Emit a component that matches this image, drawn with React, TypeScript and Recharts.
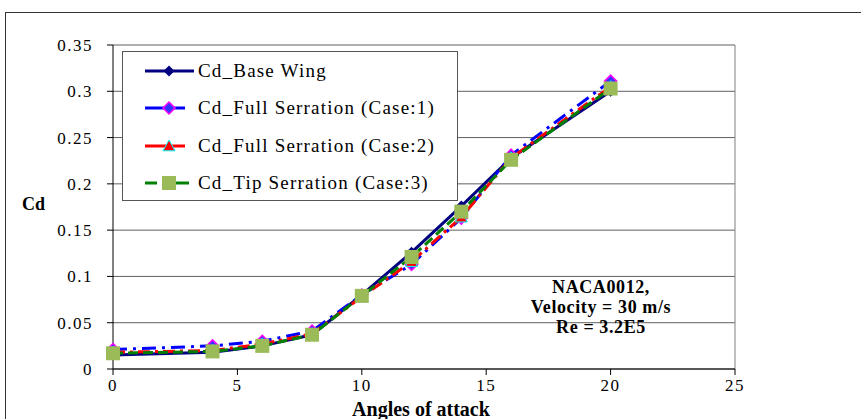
import React from 'react';
import { LineChart, Line, XAxis, YAxis, CartesianGrid, ReferenceLine } from 'recharts';

const angles = [0, 4, 6, 8, 10, 12, 14, 16, 20];
const baseWing = [0.015, 0.018, 0.025, 0.037, 0.08, 0.126, 0.176, 0.228, 0.300];
const fullCase1 = [0.021, 0.025, 0.030, 0.041, 0.080, 0.113, 0.163, 0.231, 0.311];
const fullCase2 = [0.018, 0.020, 0.027, 0.038, 0.078, 0.116, 0.164, 0.228, 0.305];
const tipCase3 = [0.017, 0.019, 0.025, 0.037, 0.079, 0.121, 0.170, 0.226, 0.303];

const xTicks = [0, 5, 10, 15, 20, 25];
const yTicks = [0, 0.05, 0.1, 0.15, 0.2, 0.25, 0.3, 0.35];

const data = angles.map((a, i) => ({
  a,
  base: baseWing[i],
  c1: fullCase1[i],
  c2: fullCase2[i],
  c3: tipCase3[i],
}));

const FONT = '"Liberation Serif", "Times New Roman", serif';

type Kind = 'diamond' | 'diamond2' | 'triangle' | 'square';

const Marker = ({ kind, cx, cy }: { kind: Kind; cx: number; cy: number }) => {
  if (kind === 'diamond') {
    const r = 5.5;
    return <polygon points={`${cx},${cy - r} ${cx + r},${cy} ${cx},${cy + r} ${cx - r},${cy}`} fill="#000080" />;
  }
  if (kind === 'diamond2') {
    const r = 6;
    return (
      <polygon
        points={`${cx},${cy - r} ${cx + r},${cy} ${cx},${cy + r} ${cx - r},${cy}`}
        fill="#3333ff"
        stroke="#ff00ff"
        strokeWidth={1.5}
      />
    );
  }
  if (kind === 'triangle') {
    const r = 6;
    return (
      <polygon
        points={`${cx},${cy - r} ${cx + r},${cy + r * 0.8} ${cx - r},${cy + r * 0.8}`}
        fill="#ff0000"
        stroke="#00ffff"
        strokeWidth={1}
      />
    );
  }
  return <rect x={cx - 7} y={cy - 7} width={14} height={14} fill="#9bbb59" />;
};

const makeDot = (kind: Kind) => (p: any) => (
  <Marker key={`${kind}-${p.index}`} kind={kind} cx={p.cx} cy={p.cy} />
);

const SERIES = [
  { key: 'base', name: 'Cd_Base Wing', color: '#000080', dash: undefined, kind: 'diamond' as Kind, legendDash: undefined },
  { key: 'c1', name: 'Cd_Full Serration (Case:1)', color: '#0000ff', dash: '14 6 3 6', kind: 'diamond2' as Kind, legendDash: '40 10 3 10' },
  { key: 'c2', name: 'Cd_Full Serration (Case:2)', color: '#ff0000', dash: '12 5 3 5', kind: 'triangle' as Kind, legendDash: '40 10 3 10' },
  { key: 'c3', name: 'Cd_Tip Serration (Case:3)', color: '#008000', dash: '10 5', kind: 'square' as Kind, legendDash: '12 12 20 12' },
];

const LegendBox = () => (
  <div
    style={{
      position: 'absolute',
      left: 122,
      top: 51,
      width: 336,
      height: 150,
      border: '1px solid #555',
      background: '#fff',
      boxSizing: 'border-box',
    }}
  >
    {SERIES.map((s) => (
      <div key={s.key} style={{ display: 'flex', alignItems: 'center', height: 37.5 }}>
        <svg width={54} height={20} style={{ marginLeft: 21 }}>
          <line x1={1} y1={10} x2={50} y2={10} stroke={s.color} strokeWidth={3} strokeDasharray={s.legendDash} />
          <Marker kind={s.kind} cx={25} cy={10} />
        </svg>
        <span style={{ fontFamily: FONT, fontSize: 19, letterSpacing: 1.2, color: '#000' }}>{s.name}</span>
      </div>
    ))}
  </div>
);

export default function App() {
  return (
    <div style={{ position: 'absolute', left: 0, top: 0, width: 861, height: 419, background: '#fff', overflow: 'hidden' }}>
      <div
        style={{
          position: 'absolute',
          left: 5,
          top: 12,
          width: 900,
          height: 500,
          border: '1px solid #333',
          boxSizing: 'border-box',
        }}
      />
      <LineChart
        width={861}
        height={419}
        data={data}
        margin={{ top: 45, right: 126, bottom: 0, left: 0 }}
        style={{ position: 'absolute', left: 0, top: 0 }}
      >
        <CartesianGrid vertical={false} stroke="#606060" strokeWidth={1} />
        <XAxis
          dataKey="a"
          type="number"
          domain={[0, 25]}
          ticks={xTicks}
          height={50}
          stroke="#000"
          tickSize={6}
          tickMargin={4}
          tick={{ fill: '#000', fontFamily: FONT, fontSize: 17, letterSpacing: 1.5 }}
        />
        <YAxis
          domain={[0, 0.35]}
          ticks={yTicks}
          width={113}
          stroke="#000"
          tickSize={6}
          tickMargin={14}
          tickFormatter={(v) => String(Math.round(v * 100) / 100)}
          tick={{ fill: '#000', fontFamily: FONT, fontSize: 17, letterSpacing: 1.5 }}
        />
        <ReferenceLine x={25} stroke="#808080" />
        {SERIES.map((s) => (
          <Line
            key={s.key}
            dataKey={s.key}
            name={s.name}
            type="linear"
            stroke={s.color}
            strokeWidth={3}
            strokeDasharray={s.dash}
            dot={makeDot(s.kind)}
            activeDot={false}
            isAnimationActive={false}
          />
        ))}
      </LineChart>
      <LegendBox />
      <div
        style={{
          position: 'absolute',
          left: 18,
          top: 192,
          padding: '2px 4px',
          background: '#fff',
          fontFamily: FONT,
          fontWeight: 'bold',
          fontSize: 18,
          color: '#000',
        }}
      >
        Cd
      </div>
      <div
        style={{
          position: 'absolute',
          left: 501,
          top: 277,
          width: 200,
          textAlign: 'center',
          fontFamily: FONT,
          fontWeight: 'bold',
          fontSize: 18,
          lineHeight: '20px',
          letterSpacing: 0.6,
          color: '#000',
        }}
      >
        NACA0012,
        <br />
        Velocity = 30 m/s
        <br />
        Re = 3.2E5
      </div>
      <div
        style={{
          position: 'absolute',
          left: 321,
          top: 398,
          width: 200,
          textAlign: 'center',
          fontFamily: FONT,
          fontWeight: 'bold',
          fontSize: 20,
          lineHeight: '22px',
          color: '#000',
        }}
      >
        Angles of attack
      </div>
    </div>
  );
}
